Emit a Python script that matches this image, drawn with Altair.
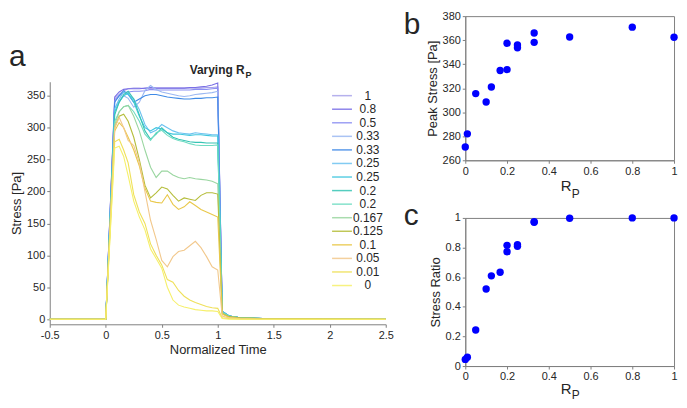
import altair as alt
import pandas as pd

# ---------------- data ----------------
times = [-0.5, -0.2, 0, 0.08, 0.12, 0.16, 0.2, 0.25, 0.3, 0.35, 0.4, 0.45, 0.5, 0.55,
         0.6, 0.65, 0.7, 0.75, 0.8, 0.85, 0.9, 0.95, 1.0, 1.04, 1.1, 1.2, 1.4, 2.5]

series_ids = ["s00", "s01", "s02", "s03", "s04", "s05", "s06", "s07",
              "s08", "s09", "s10", "s11", "s12", "s13", "s14"]
series_labels = ["1", "0.8", "0.5", "0.33", "0.33", "0.25", "0.25", "0.2",
                 "0.2", "0.167", "0.125", "0.1", "0.05", "0.01", "0"]
series_colors = ["#a9a3ea", "#7a6fe6", "#8c8ff2", "#9bb8f2", "#3f8ae6", "#6cc2f0",
                 "#3fc6de", "#36c4b4", "#6fdcc2", "#9ad6a0", "#b5bd3a", "#e9c84a",
                 "#f2c88c", "#efe05a", "#f6f06a"]

stress_rp1 = [0, 0, 0, 345, 352, 358, 361, 362, 362, 361, 362, 362, 362, 362, 362, 362, 362, 362, 362, 362, 363, 363, 364, 12, 5, 2, 1, 0]
stress_rp08 = [0, 0, 0, 348, 356, 360, 361, 361, 361, 362, 363, 362, 362, 362, 362, 362, 362, 363, 363, 364, 365, 367, 370, 12, 5, 2, 1, 0]
stress_rp05 = [0, 0, 0, 342, 350, 355, 356, 357, 357, 358, 360, 359, 359, 359, 359, 359, 359, 359, 360, 360, 360, 361, 362, 12, 5, 2, 1, 0]
stress_rp033a = [0, 0, 0, 330, 342, 350, 346, 332, 340, 358, 366, 360, 356, 354, 352, 350, 349, 350, 352, 353, 354, 355, 357, 12, 5, 2, 1, 0]
stress_rp033b = [0, 0, 0, 340, 350, 358, 352, 340, 345, 350, 352, 352, 350, 348, 347, 346, 345, 345, 346, 346, 347, 347, 348, 12, 5, 2, 1, 0]
stress_rp025a = [0, 0, 0, 330, 345, 356, 352, 345, 328, 305, 292, 296, 305, 300, 295, 292, 291, 290, 292, 291, 290, 289, 289, 12, 5, 2, 1, 0]
stress_rp025b = [0, 0, 0, 325, 340, 350, 354, 340, 318, 300, 295, 300, 298, 292, 290, 290, 289, 288, 289, 289, 288, 287, 287, 12, 5, 2, 1, 0]
stress_rp02a = [0, 0, 0, 320, 340, 352, 357, 345, 320, 295, 282, 290, 300, 292, 285, 282, 280, 278, 277, 277, 276, 276, 276, 11, 5, 2, 1, 0]
stress_rp02b = [0, 0, 0, 310, 325, 333, 335, 325, 310, 290, 280, 292, 296, 288, 283, 280, 278, 275, 273, 272, 272, 272, 273, 11, 5, 2, 1, 0]
stress_rp0167 = [0, 0, 0, 305, 325, 333, 335, 318, 295, 265, 238, 222, 232, 232, 226, 222, 220, 222, 220, 219, 218, 216, 212, 10, 4, 2, 1, 0]
stress_rp0125 = [0, 0, 0, 300, 318, 321, 310, 285, 250, 210, 190, 198, 207, 204, 194, 185, 190, 188, 186, 194, 198, 198, 196, 9, 4, 2, 1, 0]
stress_rp01 = [0, 0, 0, 295, 308, 300, 285, 265, 240, 205, 185, 183, 182, 195, 180, 172, 176, 184, 178, 172, 168, 164, 160, 8, 3, 1, 0, 0]
stress_rp005 = [0, 0, 0, 300, 316, 300, 280, 272, 245, 200, 155, 125, 92, 82, 98, 106, 108, 115, 122, 112, 98, 82, 77, 5, 2, 1, 0, 0]
stress_rp001 = [0, 0, 0, 278, 282, 265, 245, 195, 168, 150, 118, 100, 85, 62, 58, 45, 36, 30, 26, 23, 20, 18, 17, 2, 1, 0, 0, 0]
stress_rp0 = [0, 0, 0, 268, 271, 255, 225, 185, 160, 140, 110, 95, 80, 50, 30, 22, 19, 17, 15, 14, 13, 13, 12, 1, 0, 0, 0, 0]

series_values = [stress_rp1, stress_rp08, stress_rp05, stress_rp033a, stress_rp033b,
                 stress_rp025a, stress_rp025b, stress_rp02a, stress_rp02b, stress_rp0167,
                 stress_rp0125, stress_rp01, stress_rp005, stress_rp001, stress_rp0]

rp_peak = [0, 0.01, 0.05, 0.1, 0.125, 0.167, 0.2, 0.2, 0.25, 0.25, 0.33, 0.33, 0.5, 0.8, 1]
peak_stress = [271, 282, 315.5, 308.5, 321, 334.7, 335.5, 357.4, 356, 353.7, 358.2, 366, 362.6, 370.8, 362.4]

rp_ratio = [0, 0.01, 0.05, 0.1, 0.125, 0.167, 0.2, 0.2, 0.25, 0.25, 0.33, 0.33, 0.5, 0.8, 1]
stress_ratio = [0.045, 0.059, 0.243, 0.52, 0.609, 0.633, 0.772, 0.815, 0.809, 0.82, 0.97, 0.975, 0.998, 1.0, 1.0]

FONT = "Liberation Sans"
AX = "#808080"
TX = "#262626"

# ---------------- panel a ----------------
rows = []
for sid, vals in zip(series_ids, series_values):
    for t, v in zip(times, vals):
        rows.append({"series": sid, "t": t, "stress": v})
df_a = pd.DataFrame(rows)

df_leg = pd.DataFrame({"series": series_ids, "label": series_labels,
                       "idx": list(range(len(series_ids)))})

W_A, H_A = 338, 244
color_scale = alt.Scale(domain=series_ids, range=series_colors)

lines = alt.Chart(df_a).mark_line(strokeWidth=1.1).encode(
    x=alt.X("t:Q", scale=alt.Scale(domain=[-0.5, 2.5], nice=False, zero=False),
            axis=alt.Axis(title="Normalized Time", values=[-0.5, 0, 0.5, 1, 1.5, 2, 2.5],
                          labelExpr="'' + datum.value", grid=False, labelFlush=False,
                          tickSize=3, labelPadding=2, titlePadding=3)),
    y=alt.Y("stress:Q", scale=alt.Scale(domain=[-8, 372], nice=False, zero=False),
            axis=alt.Axis(title="Stress [Pa]", values=[0, 50, 100, 150, 200, 250, 300, 350],
                          grid=False, tickSize=3, labelPadding=2, titlePadding=3)),
    color=alt.Color("series:N", scale=color_scale, legend=None),
    detail="series:N",
)

leg_y = alt.Y("idx:Q", scale=alt.Scale(domain=[0, 14], range=[14, 205]), axis=None)
leg_lines = alt.Chart(df_leg).mark_rule(strokeWidth=1.5, opacity=0.85).encode(
    x=alt.value(284), x2=alt.value(304), y=leg_y,
    color=alt.Color("series:N", scale=color_scale, legend=None),
)
leg_text = alt.Chart(df_leg).mark_text(font=FONT, fontSize=12, align="center",
                                       baseline="middle", color=TX).encode(
    x=alt.value(320), y=leg_y, text="label:N")
legend_layer = alt.layer(leg_lines, leg_text)


def text_layer(s, x, y, size, weight="normal", align="left", baseline="alphabetic"):
    return alt.Chart(pd.DataFrame({"txt": [s]})).mark_text(
        font=FONT, fontSize=size, fontWeight=weight, align=align, baseline=baseline, color=TX
    ).encode(text="txt:N", x=alt.value(x), y=alt.value(y))


panel_a = alt.layer(
    lines,
    legend_layer,
    text_layer("Varying R", 196, -8, 12, "bold", "right"),
    text_layer("P", 197, -4, 9, "bold", "left"),
    text_layer("a", -41, -40, 30, baseline="top"),
    text_layer("c", 356, 120, 30, baseline="top"),
).resolve_scale(y="independent").properties(
    width=W_A, height=H_A, view=alt.ViewBackground(stroke="transparent"))

# top strip of the left column: holds the "b" panel letter
top_strip = alt.layer(
    alt.Chart(pd.DataFrame({"k": [0]})).mark_rule(strokeOpacity=0).encode(
        x=alt.value(0), y=alt.value(0), y2=alt.value(1)),
    text_layer("b", 356, -6, 30, baseline="top"),
).properties(width=1, height=1, view=alt.ViewBackground(stroke="transparent"))

left = alt.vconcat(top_strip, panel_a, spacing=0)

# ---------------- panel b ----------------
W_B, H_B = 210, 145
df_b = pd.DataFrame({"rp": rp_peak, "peak": peak_stress})
pts_b = alt.Chart(df_b).mark_circle(size=55, color="#0000ff", opacity=1).encode(
    x=alt.X("rp:Q", scale=alt.Scale(domain=[0, 1], nice=False),
            axis=alt.Axis(title=None, values=[0, 0.2, 0.4, 0.6, 0.8, 1], labelExpr="'' + datum.value",
                          grid=False, labelFlush=False, tickSize=3, labelPadding=2)),
    y=alt.Y("peak:Q", scale=alt.Scale(domain=[260, 380], nice=False, zero=False),
            axis=alt.Axis(title="Peak Stress [Pa]", values=[260, 280, 300, 320, 340, 360, 380],
                          grid=False, tickSize=3, labelPadding=2, titlePadding=3)),
)
panel_b = alt.layer(
    pts_b,
    text_layer("R", 107, 176, 15, "normal", "right"),
    text_layer("P", 107, 183, 12, "normal", "left"),
).properties(width=W_B, height=H_B, view=alt.ViewBackground(stroke=AX))

# ---------------- panel c ----------------
W_C, H_C = 210, 149
df_c = pd.DataFrame({"rp": rp_ratio, "ratio": stress_ratio})
pts_c = alt.Chart(df_c).mark_circle(size=55, color="#0000ff", opacity=1).encode(
    x=alt.X("rp:Q", scale=alt.Scale(domain=[0, 1], nice=False),
            axis=alt.Axis(title=None, values=[0, 0.2, 0.4, 0.6, 0.8, 1], labelExpr="'' + datum.value",
                          grid=False, labelFlush=False, tickSize=3, labelPadding=2)),
    y=alt.Y("ratio:Q", scale=alt.Scale(domain=[0, 1], nice=False, zero=False),
            axis=alt.Axis(title="Stress Ratio", values=[0, 0.2, 0.4, 0.6, 0.8, 1],
                          labelExpr="'' + datum.value",
                          grid=False, tickSize=3, labelPadding=2, titlePadding=3)),
)
panel_c = alt.layer(
    pts_c,
    text_layer("R", 107, 177, 15, "normal", "right"),
    text_layer("P", 107, 182, 12, "normal", "left"),
).properties(width=W_C, height=H_C, view=alt.ViewBackground(stroke=AX))

right = alt.vconcat(panel_b, panel_c, spacing=10)

chart = alt.hconcat(left, right, spacing=4).properties(
    padding=0
).configure(font=FONT).configure_axis(
    domainColor=AX, tickColor=AX, labelColor=TX, titleColor=TX,
    labelFontSize=11, titleFontSize=13, titleFontWeight="normal", labelFont=FONT, titleFont=FONT
)

chart.save("out.html", embed_options={"renderer": "svg", "actions": False})
